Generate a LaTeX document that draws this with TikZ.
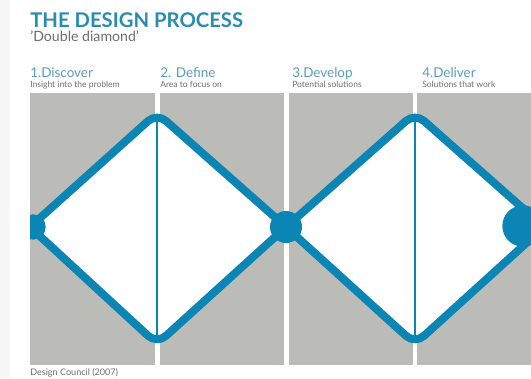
\documentclass[tikz,border=0pt]{standalone}
\usepackage{fontspec}
\setmainfont{Lato}
\definecolor{ddblue}{HTML}{0B86B4}
\definecolor{ddgray}{HTML}{BBBCB8}
\definecolor{ddtitle}{HTML}{2A8CB0}
\definecolor{ddhead}{HTML}{5A9DBB}
\definecolor{ddtext}{HTML}{6E6E6E}
\tikzset{
  x=0.75pt,y=-0.75pt,
  panel/.style={fill=ddgray,draw=none},
  diamondline/.style={draw=ddblue,line width=6pt,line join=round,rounded corners=9pt,fill=white},
  divider/.style={draw=ddblue,line width=2.2pt},
  hub/.style={circle,fill=ddblue,draw=none,inner sep=0pt},
  heading/.style={anchor=base west,inner sep=0pt,text=ddhead,font=\fontsize{10.1pt}{12pt}\selectfont},
  subhead/.style={anchor=base west,inner sep=0pt,text=ddtext,font=\fontsize{6.4pt}{7.5pt}\selectfont},
}
\begin{document}
\begin{tikzpicture}
\useasboundingbox (0,0) rectangle (531,378);
\fill[white] (0,0) rectangle (531,378);
\fill[black!3] (0,0) rectangle (10,378);
\path[panel] (30,93) rectangle (155,365);
\path[panel] (159.5,93) rectangle (284,365);
\path[panel] (288.5,93) rectangle (412.5,365);
\path[panel] (417,93) rectangle (531,365);
\begin{scope}
\clip (30,0) rectangle (531,378);
\coordinate (l1) at (30,227);
\coordinate (t1) at (157,113);
\coordinate (m) at (286,227);
\coordinate (b1) at (157,344);
\coordinate (t2) at (415,113);
\coordinate (r2) at (544,227);
\coordinate (b2) at (415,344);
\draw[diamondline] (l1) -- (t1) -- (m) -- (b1) -- cycle;
\draw[diamondline] (m) -- (t2) -- (r2) -- (b2) -- cycle;
\draw[divider] (t1) ++(0,6) coordinate (t1a) (b1) ++(0,-6) coordinate (b1a);
\draw[divider] (t1a) -- (b1a);
\draw[divider] (t2) ++(0,6) coordinate (t2a) (b2) ++(0,-6) coordinate (b2a);
\draw[divider] (t2a) -- (b2a);
\node[hub,minimum size=24pt] (hubm) at (m) {};
\node[hub,minimum size=31pt] (hubr) at (523,226) {};
\node[hub,minimum size=19pt] (hubl) at (33,227) {};
\end{scope}
\node[anchor=base west,inner sep=0pt,text=ddtitle,font=\fontsize{15.2pt}{17pt}\selectfont\bfseries] (title) at (30,27.5) {THE DESIGN PROCESS};
\node[anchor=base west,inner sep=0pt,text=ddtext,font=\fontsize{10.6pt}{12pt}\selectfont] (sub) at (30,41) {'Double diamond'};
\node[heading] (h1) at (30,77) {1.Discover};
\node[subhead] (s1) at (30,88) {Insight into the problem};
\node[heading] (h2) at (160,77) {2. Define};
\node[subhead] (s2) at (160,88) {Area to focus on};
\node[heading] (h3) at (292,77) {3.Develop};
\node[subhead] (s3) at (292,88) {Potential solutions};
\node[heading] (h4) at (422,77) {4.Deliver};
\node[subhead] (s4) at (422,88) {Solutions that work};
\node[subhead,font=\fontsize{6.8pt}{8pt}\selectfont] (cr) at (30,375) {Design Council (2007)};
\end{tikzpicture}
\end{document}
